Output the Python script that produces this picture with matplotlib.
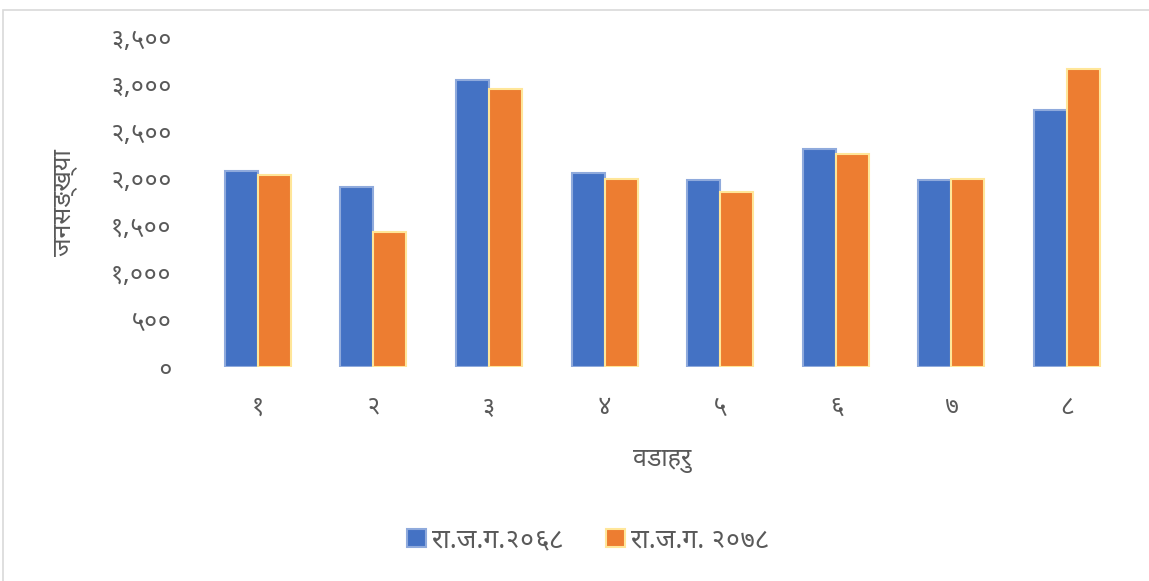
import numpy as np
import matplotlib
matplotlib.use("Agg")
from matplotlib import pyplot as plt
from matplotlib import font_manager
from matplotlib.ft2font import FT2Font
from matplotlib.patches import Rectangle


def find_devanagari_font():
    # look for any installed font that has Devanagari glyphs
    best = None
    for path in font_manager.findSystemFonts():
        try:
            cmap = FT2Font(path).get_charmap()
        except Exception:
            continue
        if 0x091C in cmap and 0x0966 in cmap:
            name = font_manager.FontProperties(fname=path).get_name()
            if best is None or "Noto" in name:
                best = (name, path)
    return best


wards = ["१", "२", "३", "४", "५", "६", "७", "८"]
pop_2068 = [2079, 1916, 3044, 2065, 1983, 2319, 1990, 2725]
pop_2078 = [2039, 1432, 2952, 2001, 1856, 2262, 1994, 3167]
series_names = ["रा.ज.ग.२०६८", "रा.ज.ग. २०७८"]
yticks = [0, 500, 1000, 1500, 2000, 2500, 3000, 3500]
ytick_labels = ["०", "५००", "१,०००", "१,५००", "२,०००", "२,५००", "३,०००", "३,५००"]
xlabel = "वडाहरु"
ylabel = "जनसङ्ख्या"

found = find_devanagari_font()
families = ["DejaVu Sans"]
if found:
    font_manager.fontManager.addfont(found[1])
    families = [found[0], "DejaVu Sans"]
plt.rcParams["font.family"] = families

grey = "#595959"
fig = plt.figure(figsize=(11.49, 5.81), dpi=100)
ax = fig.add_axes([0.174, 0.3683, 0.805, 0.5672])

x = np.arange(len(wards))
w = 0.285
ax.bar(x - w / 2, pop_2068, w, color="#4472C4", edgecolor="#8FAADC",
       linewidth=1.5, label=series_names[0])
ax.bar(x + w / 2, pop_2078, w, color="#ED7D31", edgecolor="#FFE699",
       linewidth=1.5, label=series_names[1])

ax.set_xlim(-0.5, len(wards) - 0.5)
ax.set_ylim(0, 3500)
ax.set_yticks(yticks)
ax.set_yticklabels(ytick_labels)
ax.set_xticks(x)
ax.set_xticklabels(wards)
ax.tick_params(axis="both", length=0, colors=grey, labelsize=18)
ax.tick_params(axis="x", pad=20)
ax.tick_params(axis="y", pad=20)
for s in ax.spines.values():
    s.set_visible(False)

ax.set_xlabel(xlabel, fontsize=18, color=grey, labelpad=22)
ax.set_ylabel(ylabel, fontsize=18, color=grey, labelpad=24)

ax.legend(loc="center", bbox_to_anchor=(0.42, -0.525), ncol=2, frameon=False,
          fontsize=19, labelcolor=grey, handlelength=0.7, handleheight=0.7,
          handletextpad=0.25, columnspacing=1.6)

# chart area border (cropped at right and bottom)
fig.patches.append(Rectangle((0.003, -0.1), 1.2, 1.083, transform=fig.transFigure,
                             fill=False, edgecolor="#D9D9D9", linewidth=1.2))

fig.savefig("out.png", dpi=100)
